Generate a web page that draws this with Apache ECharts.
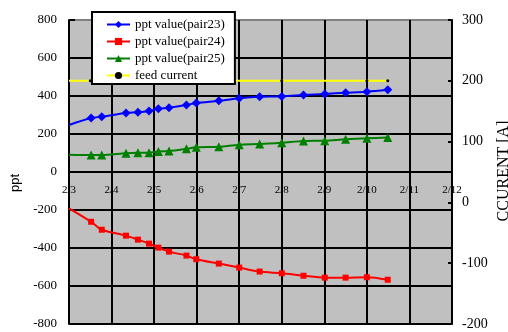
<!DOCTYPE html>
<html><head><meta charset="utf-8">
<script src="https://cdn.jsdelivr.net/npm/echarts@6/dist/echarts.min.js"></script>
<style>html,body{margin:0;padding:0;background:#fff}#c{width:508px;height:332px}</style>
</head><body><div id="c"></div>
<script>
// Data (x = day of month in February)
var days = [3.52, 3.77, 4.34, 4.62, 4.88, 5.10, 5.35, 5.76, 5.99, 6.52, 7.00, 7.48, 8.00, 8.51, 9.01, 9.50, 10.00, 10.49];
var startDay = 3;
var pair23 = [284, 291, 311, 314, 321, 333, 338, 353, 363, 375, 388, 396, 398, 405, 411, 417, 423, 433];
var pair23Start = 247;
var pair24 = [-262, -304, -335, -356, -377, -398, -419, -440, -459, -482, -503, -524, -533, -546, -556, -556, -554, -567];
var pair24Start = -191;
var pair25 = [89, 89, 99, 101, 101, 108, 110, 122, 130, 133, 144, 147, 154, 163, 165, 172, 177, 182];
var pair25Start = 91;
var feedDays = [3.5, 8.0, 10.0, 10.49];
var feedCurrent = [200, 200, 200, 200];
var feedStart = 200;
var xTickLabels = ['2/3','2/4','2/5','2/6','2/7','2/8','2/9','2/10','2/11','2/12'];
var names = ['ppt value(pair23)', 'ppt value(pair24)', 'ppt value(pair25)', 'feed current'];

function build(start, xs, ys) {
  var out = [{value: [startDay, start], symbol: 'none'}];
  for (var i = 0; i < xs.length; i++) out.push([xs[i], ys[i]]);
  return out;
}
var serif = 'Liberation Serif';
var chart = echarts.init(document.getElementById('c'), null, {renderer: 'canvas'});
var splitColors = ['#000','#000','#000','#000','#000','#000','#000','#000','#808080'];
chart.setOption({
  animation: false,
  grid: {left: 69, right: 56, top: 20, bottom: 8, show: true, backgroundColor: '#c0c0c0', borderWidth: 0,
    outerBoundsMode: 'none', containLabel: false},
  legend: {
    orient: 'vertical', left: 92, top: 12, data: names,
    backgroundColor: '#fff', borderColor: '#000', borderWidth: 2,
    padding: [6, 10, 2, 14], itemWidth: 23, itemHeight: 9, itemGap: 4,
    textStyle: {fontFamily: serif, fontSize: 13, color: '#000'}
  },
  xAxis: {
    type: 'value', min: 3, max: 12, interval: 1, position: 'bottom', offset: -152,
    axisLine: {show: true, onZero: false, lineStyle: {color: '#000', width: 2}},
    axisTick: {show: false},
    axisLabel: {fontFamily: serif, fontSize: 11, color: '#000', margin: 13,
      formatter: function (v) { return xTickLabels[Math.round(v - 3)]; }},
    splitLine: {show: true, lineStyle: {color: '#000', width: 2}}
  },
  yAxis: [{
    type: 'value', min: -800, max: 800, interval: 200,
    axisLine: {show: true, onZero: false, lineStyle: {color: '#000', width: 2}},
    axisTick: {show: true, inside: true, length: 6, lineStyle: {color: '#000', width: 2}},
    axisLabel: {fontFamily: serif, fontSize: 13, color: '#000', margin: 12},
    splitLine: {show: true, lineStyle: {color: splitColors, width: 2}}
  }, {
    type: 'value', min: -200, max: 300, interval: 100, position: 'right',
    axisLine: {show: true, onZero: false, lineStyle: {color: '#000', width: 2}},
    axisTick: {show: true, inside: true, length: 4, lineStyle: {color: '#000', width: 2}},
    axisLabel: {fontFamily: serif, fontSize: 14, color: '#000', margin: 10},
    splitLine: {show: false}
  }],
  graphic: [
    {type: 'text', x: 15, y: 183, rotation: Math.PI / 2,
      style: {text: 'ppt', font: '13px "Liberation Sans"', fill: '#000', textAlign: 'center', textVerticalAlign: 'middle'}},
    {type: 'text', x: 504, y: 171, rotation: Math.PI / 2,
      style: {text: 'CCURENT [A]', font: '16px "Liberation Serif"', fill: '#000', textAlign: 'center', textVerticalAlign: 'middle'}}
  ],
  series: [
    {name: names[0], type: 'line', smooth: 0.3, data: build(pair23Start, days, pair23),
      symbol: 'diamond', symbolSize: 9, lineStyle: {color: '#0000ff', width: 2}, itemStyle: {color: '#0000ff'}},
    {name: names[1], type: 'line', smooth: 0.3, data: build(pair24Start, days, pair24),
      symbol: 'rect', symbolSize: 6, lineStyle: {color: '#ff0000', width: 2}, itemStyle: {color: '#ff0000'}},
    {name: names[2], type: 'line', smooth: 0.3, data: build(pair25Start, days, pair25),
      symbol: 'triangle', symbolSize: 9, lineStyle: {color: '#008000', width: 2}, itemStyle: {color: '#008000'}},
    {name: names[3], type: 'line', yAxisIndex: 1, data: build(feedStart, feedDays, feedCurrent),
      symbol: 'circle', symbolSize: 3, lineStyle: {color: '#ffff00', width: 2}, itemStyle: {color: '#000'}}
  ]
});
</script></body></html>
